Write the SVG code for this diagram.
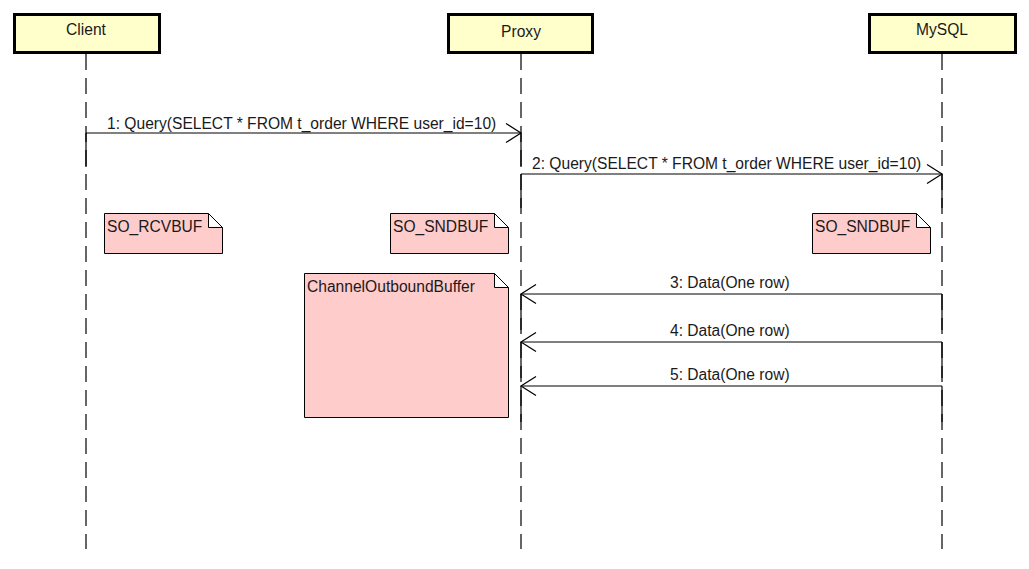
<svg xmlns="http://www.w3.org/2000/svg" width="1029" height="569" viewBox="0 0 1029 569">
<style>
.box{fill:#FFFFCC;stroke:#000;stroke-width:3}
.lbl{font-family:"Liberation Sans",Arial,sans-serif;font-size:15.6px;fill:#1a1a1a}
.life{stroke:#000;stroke-width:1.2;stroke-dasharray:16 8;fill:none}
.solid{stroke:#000;stroke-width:1.2;fill:none}
.msg{stroke:#000;stroke-width:1;fill:none}
.head{stroke:#000;stroke-width:1.2;fill:none}
.note{fill:#FFCCCC;stroke:#000;stroke-width:1}
</style>
<rect width="1029" height="569" fill="#FFFFFF"/>
<g id="client">
<rect class="box" x="14.5" y="14.5" width="145" height="38"/>
<text class="lbl" x="86" y="35" text-anchor="middle">Client</text>
</g>
<g id="proxy">
<rect class="box" x="448.5" y="14.5" width="144" height="38"/>
<text class="lbl" x="521" y="37" text-anchor="middle">Proxy</text>
</g>
<g id="mysql">
<rect class="box" x="869.5" y="14.5" width="146" height="38"/>
<text class="lbl" x="942" y="35" text-anchor="middle">MySQL</text>
</g>
<g id="lifelines">
<line class="life" x1="86" y1="54" x2="86" y2="549"/>
<line class="life" x1="521" y1="54" x2="521" y2="549"/>
<line class="life" x1="942" y1="54" x2="942" y2="549"/>
</g>
<g id="note-rcvbuf">
<path class="note" d="M104.5,213.5 H208.5 L222.5,227.5 V253.5 H104.5 Z M208.5,213.5 V227.5 H222.5"/>
<text class="lbl" x="107" y="232">SO_RCVBUF</text>
</g>
<g id="note-sndbuf-proxy">
<path class="note" d="M390.5,213.5 H494.5 L508.5,227.5 V253.5 H390.5 Z M494.5,213.5 V227.5 H508.5"/>
<text class="lbl" x="393" y="232">SO_SNDBUF</text>
</g>
<g id="note-sndbuf-mysql">
<path class="note" d="M812.5,213.5 H916.5 L930.5,227.5 V253.5 H812.5 Z M916.5,213.5 V227.5 H930.5"/>
<text class="lbl" x="815" y="232">SO_SNDBUF</text>
</g>
<g id="note-outbound">
<path class="note" d="M304.5,273.5 H494.5 L508.5,287.5 V417.5 H304.5 Z M494.5,273.5 V287.5 H508.5"/>
<text class="lbl" x="307" y="292">ChannelOutboundBuffer</text>
</g>
<g id="connectors">
<g id="m1">
<line class="solid" x1="86" y1="133" x2="86" y2="167"/>
<line class="solid" x1="521" y1="133" x2="521" y2="167"/>
<line class="msg" x1="86" y1="133" x2="521" y2="133"/>
<polyline class="head" points="506,123.5 521,133 506,142.5"/>
<text class="lbl" x="107" y="129">1: Query(SELECT * FROM t_order WHERE user_id=10)</text>
</g>
<g id="m2">
<line class="solid" x1="521" y1="174" x2="521" y2="208"/>
<line class="solid" x1="942" y1="174" x2="942" y2="208"/>
<line class="msg" x1="521" y1="174" x2="942" y2="174"/>
<polyline class="head" points="927,164.5 942,174 927,183.5"/>
<text class="lbl" x="532" y="169">2: Query(SELECT * FROM t_order WHERE user_id=10)</text>
</g>
<g id="m3">
<line class="solid" x1="942" y1="294" x2="942" y2="330"/>
<line class="solid" x1="521" y1="294" x2="521" y2="330"/>
<line class="msg" x1="942" y1="294" x2="521" y2="294"/>
<polyline class="head" points="536,284.5 521,294 536,303.5"/>
<text class="lbl" x="670" y="288">3: Data(One row)</text>
</g>
<g id="m4">
<line class="solid" x1="942" y1="342" x2="942" y2="378"/>
<line class="solid" x1="521" y1="342" x2="521" y2="378"/>
<line class="msg" x1="942" y1="342" x2="521" y2="342"/>
<polyline class="head" points="536,332.5 521,342 536,351.5"/>
<text class="lbl" x="670" y="336">4: Data(One row)</text>
</g>
<g id="m5">
<line class="solid" x1="942" y1="386" x2="942" y2="422"/>
<line class="solid" x1="521" y1="386" x2="521" y2="422"/>
<line class="msg" x1="942" y1="386" x2="521" y2="386"/>
<polyline class="head" points="536,376.5 521,386 536,395.5"/>
<text class="lbl" x="670" y="380">5: Data(One row)</text>
</g>
</g>
</svg>
